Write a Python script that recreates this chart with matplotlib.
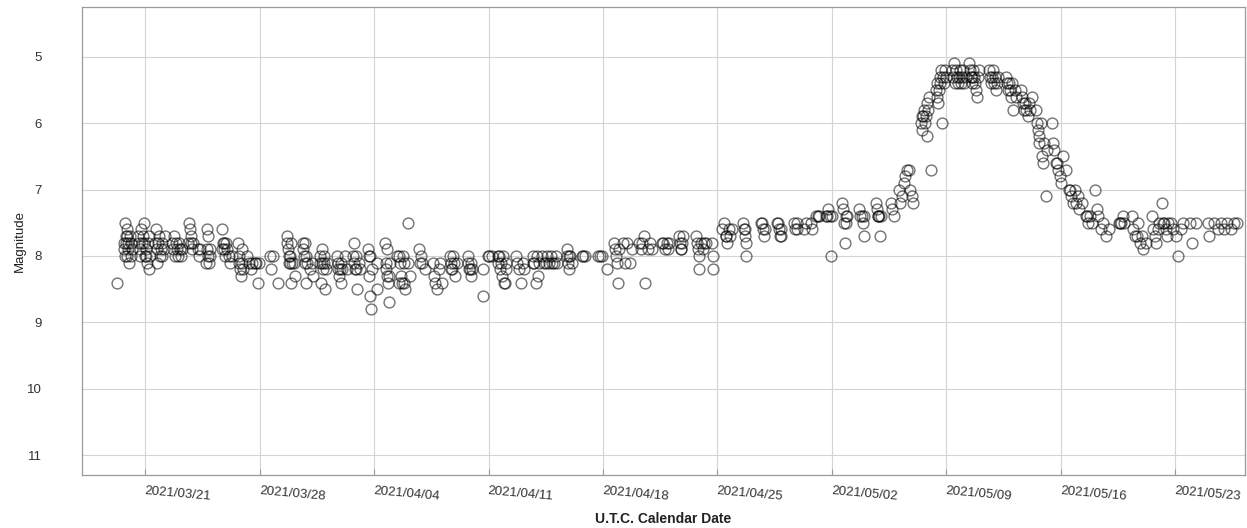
import pandas as pd
import matplotlib
matplotlib.use("Agg")
import matplotlib.pyplot as plt
import matplotlib.dates as mdates

# Visual estimates, (JD - 2459000, magnitude)
march_obs = [
    (292.79, 8.4),
    (293.20, 7.8), (293.22, 7.9), (293.25, 8.0), (293.28, 7.5), (293.30, 7.7), (293.33, 7.8),
    (293.36, 8.0), (293.38, 7.6), (293.40, 7.7), (293.43, 7.8), (293.46, 7.9), (293.50, 8.1),
    (293.55, 7.7), (293.60, 7.8), (293.64, 8.0), (293.68, 7.9),
    (294.08, 7.7), (294.12, 7.8), (294.15, 8.0), (294.20, 7.9), (294.25, 7.6), (294.30, 7.8),
    (294.35, 7.7), (294.40, 7.8), (294.45, 7.5), (294.48, 8.0), (294.52, 8.0), (294.56, 7.9),
    (294.60, 8.1), (294.65, 7.8), (294.70, 8.2), (294.75, 7.7), (294.80, 8.0),
    (295.10, 7.8), (295.15, 7.6), (295.20, 7.9), (295.25, 8.1), (295.30, 7.8), (295.35, 7.7),
    (295.40, 8.0), (295.45, 7.9), (295.50, 7.8), (295.55, 8.0), (295.62, 7.9), (295.70, 7.7),
    (296.15, 7.8), (296.20, 7.9), (296.25, 7.7), (296.30, 8.0), (296.38, 7.8), (296.45, 7.9),
    (296.50, 8.0), (296.55, 7.8), (296.62, 7.9), (296.70, 8.0), (296.76, 7.9),
    (297.13, 7.8), (297.18, 7.5), (297.22, 7.6), (297.27, 7.8), (297.30, 7.7), (297.35, 7.9),
    (297.40, 7.8), (297.70, 7.9), (297.80, 8.0), (297.85, 7.9),
    (298.22, 8.1), (298.25, 7.6), (298.28, 7.9), (298.32, 8.0), (298.36, 7.7), (298.40, 8.1),
    (298.45, 7.9), (298.48, 8.0),
    (299.18, 7.9), (299.22, 7.6), (299.26, 7.8), (299.30, 7.8), (299.34, 7.9), (299.38, 8.0),
    (299.42, 7.8), (299.48, 7.9), (299.62, 8.0), (299.70, 8.1), (299.78, 8.0),
    (300.18, 7.8), (300.22, 8.0), (300.26, 8.1), (300.30, 8.2), (300.35, 8.3), (300.40, 8.1),
    (300.45, 7.9), (300.48, 8.2), (300.75, 8.0), (300.85, 8.1), (300.95, 8.2), (301.05, 8.1),
    (301.22, 8.1), (301.30, 8.1), (301.38, 8.4), (301.48, 8.1),
    (302.14, 8.0), (302.22, 8.2), (302.30, 8.0), (302.60, 8.4),
    (303.17, 7.7), (303.20, 7.8), (303.24, 7.9), (303.27, 8.0), (303.30, 8.1), (303.33, 8.1),
    (303.36, 8.0), (303.40, 7.8), (303.44, 8.4), (303.48, 8.1), (303.58, 8.1), (303.66, 8.3),
    (304.15, 7.8), (304.18, 7.9), (304.22, 8.0), (304.25, 8.1), (304.28, 7.8), (304.32, 8.0),
    (304.36, 8.4), (304.40, 8.1), (304.60, 8.2), (304.70, 8.1), (304.74, 8.3),
    (305.19, 8.0), (305.22, 8.1), (305.26, 8.4), (305.30, 7.9), (305.34, 8.1), (305.38, 8.2),
    (305.42, 8.0), (305.46, 8.1),
]

april_obs = [
    (305.50, 8.5), (305.55, 8.2), (305.60, 8.1),
    (306.23, 8.0), (306.27, 8.1), (306.31, 8.2), (306.35, 8.3), (306.40, 8.2), (306.45, 8.1),
    (306.50, 8.4), (306.53, 8.2), (306.75, 8.0), (306.84, 8.2),
    (307.20, 8.0), (307.25, 7.8), (307.30, 8.1), (307.34, 8.2), (307.38, 8.2), (307.42, 8.0),
    (307.48, 8.5), (307.55, 8.1), (307.63, 8.2),
    (308.12, 7.9), (308.16, 8.0), (308.20, 8.3), (308.24, 8.0), (308.28, 8.6), (308.32, 8.8),
    (308.37, 8.2), (308.67, 8.1), (308.70, 8.5),
    (309.16, 7.8), (309.20, 8.1), (309.24, 8.2), (309.28, 7.9), (309.32, 8.3), (309.36, 8.4),
    (309.40, 8.3), (309.44, 8.7), (309.47, 8.1),
    (309.90, 8.0), (310.00, 8.0), (310.05, 8.4), (310.10, 8.1), (310.15, 8.3), (310.20, 8.4),
    (310.25, 8.0), (310.30, 8.1), (310.35, 8.4), (310.40, 8.5), (310.57, 7.5), (310.60, 8.1),
    (310.70, 8.3),
    (311.24, 7.9), (311.30, 8.1), (311.35, 8.0), (311.45, 8.1), (311.60, 8.2),
    (312.10, 8.1), (312.18, 8.3), (312.25, 8.4), (312.35, 8.5), (312.45, 8.2), (312.55, 8.1),
    (312.64, 8.4),
    (313.13, 8.0), (313.18, 8.1), (313.22, 8.2), (313.28, 8.2), (313.33, 8.0), (313.40, 8.1),
    (313.48, 8.3), (313.56, 8.1),
    (314.23, 8.0), (314.27, 8.1), (314.31, 8.2), (314.35, 8.2), (314.40, 8.1), (314.44, 8.3),
    (314.48, 8.2),
    (315.15, 8.2), (315.16, 8.6), (315.45, 8.0), (315.55, 8.0), (315.70, 8.0),
    (316.06, 8.0), (316.10, 8.1), (316.15, 8.0), (316.20, 8.2), (316.25, 8.1), (316.30, 8.3),
    (316.36, 8.0), (316.42, 8.4), (316.48, 8.4), (316.55, 8.1), (316.60, 8.2),
    (317.20, 8.0), (317.25, 8.1), (317.35, 8.2), (317.50, 8.4), (317.60, 8.1), (317.70, 8.2),
    (318.20, 8.0), (318.25, 8.1), (318.30, 8.1), (318.38, 8.4), (318.45, 8.0), (318.52, 8.3),
    (318.60, 8.1), (318.80, 8.0), (318.90, 8.1), (319.00, 8.1), (319.10, 8.0), (319.20, 8.1),
    (319.30, 8.0), (319.40, 8.1), (319.50, 8.1), (319.60, 8.0), (319.67, 8.1),
    (320.28, 8.0), (320.32, 7.9), (320.36, 8.1), (320.40, 8.0), (320.45, 8.2), (320.50, 8.0),
    (320.58, 8.1),
    (321.20, 8.0), (321.30, 8.0), (321.40, 8.0),
    (322.17, 8.0), (322.30, 8.0), (322.42, 8.0), (322.72, 8.2),
    (323.20, 7.8), (323.25, 7.9), (323.30, 8.0), (323.35, 8.1), (323.40, 8.4), (323.50, 7.9),
    (323.70, 7.8), (323.85, 8.1), (324.00, 7.8), (324.15, 8.1), (324.30, 7.9),
    (324.70, 7.8), (324.80, 7.9), (324.90, 7.8), (325.00, 7.7), (325.10, 8.4), (325.25, 7.9),
    (325.40, 7.8), (325.50, 7.9),
    (326.10, 7.8), (326.20, 7.8), (326.30, 7.9), (326.40, 7.8), (326.50, 7.9), (326.57, 7.8),
    (327.18, 7.7), (327.22, 7.8), (327.26, 7.9), (327.30, 7.9), (327.34, 7.8), (327.37, 7.7),
    (328.20, 7.7), (328.25, 7.8), (328.30, 7.9), (328.35, 8.0), (328.40, 8.2), (328.50, 7.8),
    (328.60, 7.9), (328.70, 7.8), (328.83, 7.8),
    (329.20, 7.8), (329.22, 8.0), (329.25, 8.2),
    (329.80, 7.6), (329.90, 7.5), (330.00, 7.7), (330.05, 7.7), (330.10, 7.8), (330.20, 7.6),
    (330.30, 7.7), (330.40, 7.6),
    (331.10, 7.5), (331.15, 7.6), (331.20, 7.7), (331.22, 7.6), (331.25, 7.8), (331.27, 8.0),
    (332.20, 7.5), (332.25, 7.5), (332.30, 7.6), (332.35, 7.7), (332.40, 7.6),
    (333.17, 7.5), (333.22, 7.5), (333.28, 7.6), (333.33, 7.7), (333.38, 7.7), (333.41, 7.6),
    (334.20, 7.5), (334.28, 7.6), (334.35, 7.6), (334.40, 7.5),
    (334.80, 7.6), (334.90, 7.5), (335.20, 7.5), (335.30, 7.6),
]

may_obs = [
    (335.55, 7.4), (335.65, 7.4), (335.73, 7.4),
    (336.16, 7.4), (336.22, 7.4), (336.30, 7.3), (336.38, 7.4), (336.45, 8.0), (336.50, 7.4),
    (337.14, 7.2), (337.18, 7.3), (337.22, 7.5), (337.28, 7.8), (337.35, 7.4), (337.40, 7.5),
    (337.44, 7.4),
    (338.18, 7.3), (338.25, 7.4), (338.32, 7.4), (338.40, 7.5), (338.45, 7.7), (338.50, 7.4),
    (339.20, 7.2), (339.25, 7.3), (339.30, 7.4), (339.35, 7.4), (339.40, 7.4), (339.45, 7.7),
    (339.50, 7.4),
    (340.13, 7.2), (340.20, 7.3), (340.30, 7.4),
    (340.60, 7.0), (340.70, 7.2), (340.80, 7.1), (340.90, 6.9), (341.00, 6.8), (341.10, 6.7),
    (341.20, 6.7), (341.30, 7.0), (341.40, 7.1), (341.50, 7.2),
    (341.96, 6.0), (342.00, 5.9), (342.05, 6.1), (342.10, 5.9), (342.15, 5.8), (342.20, 6.0),
    (342.25, 5.9), (342.30, 6.2), (342.35, 5.7), (342.40, 5.8), (342.45, 5.6), (342.58, 6.7),
    (342.88, 5.5), (342.92, 5.6), (342.96, 5.4), (343.00, 5.7), (343.05, 5.5), (343.10, 5.3),
    (343.15, 5.4), (343.20, 5.2), (343.25, 6.0), (343.30, 5.3), (343.35, 5.4), (343.42, 5.2),
    (343.50, 5.3),
    (343.86, 5.2), (343.92, 5.3), (343.98, 5.1), (344.05, 5.4), (344.10, 5.2), (344.16, 5.3),
    (344.22, 5.4), (344.28, 5.3), (344.34, 5.2), (344.40, 5.4), (344.48, 5.3), (344.55, 5.2),
    (344.62, 5.4), (344.70, 5.3),
    (344.90, 5.1), (344.95, 5.2), (345.00, 5.3), (345.05, 5.4), (345.10, 5.3), (345.15, 5.2),
    (345.20, 5.3), (345.25, 5.4), (345.30, 5.5), (345.38, 5.6), (345.45, 5.3), (345.50, 5.2),
    (346.10, 5.2), (346.16, 5.3), (346.22, 5.4), (346.28, 5.3), (346.34, 5.2), (346.40, 5.4),
    (346.46, 5.3), (346.52, 5.5), (346.60, 5.4), (346.70, 5.3),
    (347.16, 5.3), (347.22, 5.4), (347.28, 5.5), (347.34, 5.4), (347.40, 5.5), (347.46, 5.6),
    (347.52, 5.4), (347.60, 5.8), (347.68, 5.5), (347.77, 5.6),
    (348.10, 5.5), (348.16, 5.6), (348.22, 5.7), (348.28, 5.8), (348.34, 5.7), (348.40, 5.8),
    (348.48, 5.9), (348.56, 5.7), (348.64, 5.8), (348.74, 5.6),
    (348.99, 5.8), (349.05, 6.0), (349.10, 6.1), (349.15, 6.2), (349.20, 6.3), (349.28, 6.0),
    (349.35, 6.5), (349.42, 6.6), (349.50, 6.3), (349.58, 7.1), (349.66, 6.4),
    (349.96, 6.0), (350.05, 6.3), (350.12, 6.4), (350.20, 6.6), (350.28, 6.6), (350.36, 6.7),
    (350.45, 6.8), (350.55, 6.9), (350.65, 6.5), (350.80, 6.7),
    (351.00, 7.0), (351.08, 7.0), (351.15, 7.1), (351.25, 7.2), (351.35, 7.0), (351.45, 7.2),
    (351.55, 7.1), (351.65, 7.3), (351.80, 7.2),
    (352.05, 7.4), (352.12, 7.4), (352.20, 7.5), (352.30, 7.4), (352.45, 7.5), (352.60, 7.0),
    (352.70, 7.3), (352.80, 7.4), (352.95, 7.6), (353.10, 7.5), (353.25, 7.7), (353.45, 7.6),
    (354.06, 7.5), (354.15, 7.5), (354.22, 7.5), (354.30, 7.4), (354.37, 7.5),
    (354.85, 7.4), (354.95, 7.6), (355.05, 7.7), (355.15, 7.7), (355.25, 7.5), (355.35, 7.8),
    (355.45, 7.7), (355.55, 7.9), (355.70, 7.8),
    (356.07, 7.4), (356.15, 7.6), (356.25, 7.7), (356.35, 7.8), (356.45, 7.6), (356.50, 7.5),
    (356.70, 7.2), (356.78, 7.5), (356.85, 7.5), (356.92, 7.6), (357.00, 7.7), (357.10, 7.5),
    (357.25, 7.5), (357.40, 7.6), (357.55, 7.7), (357.70, 8.0), (357.85, 7.6), (358.00, 7.5),
    (358.40, 7.5), (358.55, 7.8), (358.80, 7.5),
    (359.50, 7.5), (359.60, 7.7), (359.86, 7.5),
    (360.10, 7.6), (360.30, 7.5), (360.50, 7.6), (360.70, 7.5), (360.90, 7.6), (361.10, 7.5),
    (361.30, 7.5),
]

JD_BASE = 2459000.0

obs = pd.DataFrame(march_obs + april_obs + may_obs, columns=["jd", "mag"])
obs["date"] = pd.to_datetime(obs["jd"] + JD_BASE, unit="D", origin="julian")

plt.rcParams["font.family"] = ["Liberation Sans", "DejaVu Sans"]

fig = plt.figure(figsize=(12.47, 5.28), dpi=100)
ax = fig.add_axes([0.066, 0.100, 0.932, 0.887])

ax.plot(obs["date"], obs["mag"], "o", mfc="none", mec="black",
        ms=7.8, mew=1.0, alpha=0.55, zorder=3)

# magnitude scale: brighter is up
ax.set_ylim(11.3, 4.25)
ax.set_yticks([5, 6, 7, 8, 9, 10, 11])
x0 = pd.to_datetime(290.65 + JD_BASE, unit="D", origin="julian")
x1 = pd.to_datetime(361.75 + JD_BASE, unit="D", origin="julian")
ax.set_xlim(x0, x1)

ax.xaxis.set_major_locator(mdates.WeekdayLocator(byweekday=mdates.SU))
ax.xaxis.set_major_formatter(mdates.DateFormatter("%Y/%m/%d"))

ax.grid(True, color="#d4d4d4", linewidth=0.8, zorder=0)
for side in ["top", "right", "left", "bottom"]:
    ax.spines[side].set_color("#9a9a9a")
    ax.spines[side].set_linewidth(0.9)

ax.tick_params(axis="y", length=0, pad=29, labelsize=9.5, labelcolor="#333333")
ax.tick_params(axis="x", direction="in", length=4, color="#9a9a9a",
               pad=7, labelsize=9.5, labelcolor="#333333")
for lbl in ax.get_xticklabels():
    lbl.set_rotation(-5)
    lbl.set_ha("left")
    lbl.set_rotation_mode("anchor")

ax.set_ylabel("Magnitude", fontsize=9.5, color="#222222", labelpad=1)
ax.set_xlabel("U.T.C. Calendar Date", fontsize=10, fontweight="bold",
              color="#222222", labelpad=7)

fig.savefig("out.png", dpi=100)
